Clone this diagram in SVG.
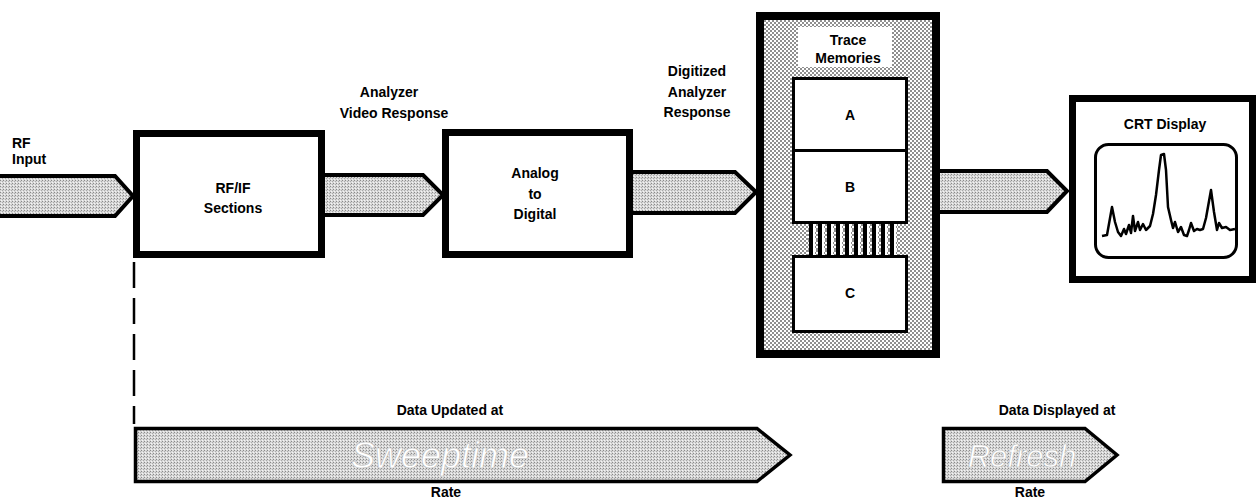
<svg xmlns="http://www.w3.org/2000/svg" width="1256" height="498" viewBox="0 0 1256 498">
<defs>
<pattern id="dots" width="4" height="4" patternUnits="userSpaceOnUse">
<rect width="4" height="4" fill="#ffffff"/>
<circle cx="1" cy="1" r="0.8" fill="#000"/>
<circle cx="3" cy="3" r="0.8" fill="#000"/>
</pattern>
<pattern id="stip" width="3" height="3" patternUnits="userSpaceOnUse">
<rect width="3" height="3" fill="#d8d8d8"/>
<rect x="0" y="0" width="1" height="1" fill="#8a8a8a"/>
<rect x="2" y="1" width="1" height="1" fill="#aaaaaa"/>
<rect x="1" y="2" width="1" height="1" fill="#f4f4f4"/>
</pattern>
<pattern id="bars" width="9" height="10" patternUnits="userSpaceOnUse" x="808">
<rect width="9" height="10" fill="url(#dots)"/>
<rect x="1" width="4" height="10" fill="#000"/>
<rect x="5" width="2" height="10" fill="#fff"/>
</pattern>
<style>
.lbl{font-family:"Liberation Sans",Arial,sans-serif;font-weight:bold;font-size:14px;fill:#000;text-anchor:middle}
.box{fill:#fff;stroke:#000;stroke-width:7}
.inner{fill:#fff;stroke:#000;stroke-width:3}
.afill{fill:url(#stip);stroke:none}
.aedge{fill:none;stroke:#000;stroke-width:4;stroke-linejoin:miter}
.big{font-family:"Liberation Sans",Arial,sans-serif;font-style:italic;font-size:36px;fill:#fff;stroke:#bdbdbd;stroke-width:0.6;text-anchor:middle}
</style>
</defs>
<rect width="1256" height="498" fill="#fff"/>

<g id="connectors">
<g id="arrow-rf-input">
<polygon class="afill" points="0,176 115,176 133,196 115,216 0,216"/>
<polyline class="aedge" points="0,176 115,176 133,196 115,216 0,216"/>
</g>
<g id="arrow-video">
<polygon class="afill" points="325,175 423,175 443,195 423,215 325,215"/>
<polyline class="aedge" points="325,175 423,175 443,195 423,215 325,215"/>
</g>
<g id="arrow-digitized">
<polygon class="afill" points="633,172 735,172 756,192 735,213 633,213"/>
<polyline class="aedge" points="633,172 735,172 756,192 735,213 633,213"/>
</g>
<g id="arrow-display">
<polygon class="afill" points="940,171 1047,171 1067,191 1047,212 940,212"/>
<polyline class="aedge" points="940,171 1047,171 1067,191 1047,212 940,212"/>
</g>
<line id="dashed" x1="134" y1="262" x2="134" y2="424" stroke="#000" stroke-width="2.5" stroke-dasharray="26 10"/>
</g>

<g id="rf-input-label">
<text class="lbl" x="12" y="148" style="text-anchor:start">RF</text>
<text class="lbl" x="12" y="164" style="text-anchor:start">Input</text>
</g>

<g id="video-label">
<text class="lbl" x="389" y="97">Analyzer</text>
<text class="lbl" x="394" y="118">Video Response</text>
</g>

<g id="digitized-label">
<text class="lbl" x="697" y="76">Digitized</text>
<text class="lbl" x="697" y="97">Analyzer</text>
<text class="lbl" x="697" y="117">Response</text>
</g>

<g id="rf-if">
<rect class="box" x="136.5" y="133.5" width="185" height="121"/>
<text class="lbl" x="233" y="193">RF/IF</text>
<text class="lbl" x="233" y="213">Sections</text>
</g>

<g id="adc">
<rect class="box" x="445.5" y="132.5" width="184" height="122"/>
<text class="lbl" x="535" y="178">Analog</text>
<text class="lbl" x="535" y="199">to</text>
<text class="lbl" x="535" y="219">Digital</text>
</g>

<g id="trace-memories">
<rect x="760" y="16" width="176" height="338" fill="url(#dots)" stroke="#000" stroke-width="8"/>
<rect x="798" y="27" width="94" height="40" fill="#fff"/>
<text class="lbl" x="848" y="45">Trace</text>
<text class="lbl" x="848" y="63">Memories</text>
<rect x="808" y="223" width="90" height="32" fill="url(#bars)"/>
<g id="mem-a"><rect class="inner" x="793.5" y="78.5" width="113" height="72"/><text class="lbl" x="850" y="120">A</text></g>
<g id="mem-b"><rect class="inner" x="793.5" y="150.5" width="113" height="72"/><text class="lbl" x="850" y="192">B</text></g>
<g id="mem-c"><rect class="inner" x="793.5" y="256.5" width="113" height="75"/><text class="lbl" x="850" y="298">C</text></g>
</g>

<g id="crt-display">
<rect class="box" x="1072.5" y="98.5" width="180" height="181"/>
<text class="lbl" x="1165" y="129">CRT Display</text>
<rect x="1095.5" y="144.5" width="141" height="113" rx="13" fill="#fff" stroke="#000" stroke-width="3"/>
<polyline fill="none" stroke="#000" stroke-width="2.5" stroke-linejoin="round" points="1102,236 1107,235 1112,207 1115,222 1118,232 1121,236 1124,229 1126,234 1129,225 1131,233 1133,216 1135,231 1138,222 1140,230 1143,224 1146,230 1150,226 1153,214 1156,195 1159,170 1161,155 1164,154 1166,170 1168,207 1171,220 1173,228 1175,222 1178,232 1181,227 1184,235 1187,236 1189,230 1191,223 1194,231 1197,229 1200,230 1203,229 1206,218 1211,190 1214,212 1217,230 1219,223 1222,228 1226,227 1230,230 1235,229"/>
</g>

<g id="sweeptime">
<text class="lbl" x="450" y="415">Data Updated at</text>
<polygon points="135.5,428.5 757,428.5 790,455 757,481.5 135.5,481.5" fill="url(#stip)" stroke="#000" stroke-width="3.5" stroke-linejoin="miter"/>
<text class="big" x="440" y="468">Sweeptime</text>
<text class="lbl" x="446" y="497">Rate</text>
</g>

<g id="refresh">
<text class="lbl" x="1057" y="415">Data Displayed at</text>
<polygon points="943.5,428.5 1085,428.5 1117,455 1085,481.5 943.5,481.5" fill="url(#stip)" stroke="#000" stroke-width="3.5" stroke-linejoin="miter"/>
<text class="big" x="1022" y="467" style="font-size:31px">Refresh</text>
<text class="lbl" x="1030" y="497">Rate</text>
</g>
</svg>
